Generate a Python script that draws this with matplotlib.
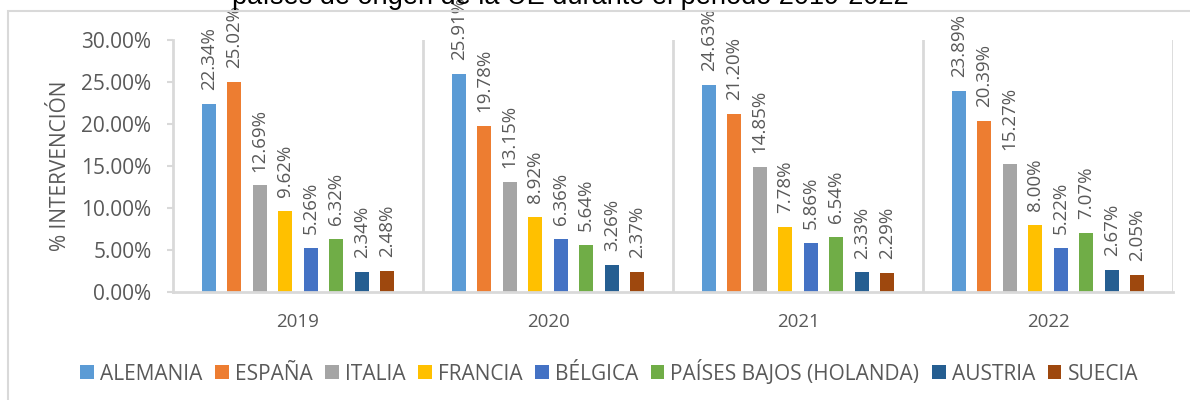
import matplotlib.pyplot as plt
import matplotlib.patches as mpatches
import numpy as np

# datos
years = ['2019', '2020', '2021', '2022']
countries = ['ALEMANIA', 'ESPAÑA', 'ITALIA', 'FRANCIA', 'BÉLGICA',
             'PAÍSES BAJOS (HOLANDA)', 'AUSTRIA', 'SUECIA']
alemania = [22.34, 25.91, 24.63, 23.89]
espana = [25.02, 19.78, 21.20, 20.39]
italia = [12.69, 13.15, 14.85, 15.27]
francia = [9.62, 8.92, 7.78, 8.00]
belgica = [5.26, 6.36, 5.86, 5.22]
paises_bajos = [6.32, 5.64, 6.54, 7.07]
austria = [2.34, 3.26, 2.33, 2.67]
suecia = [2.48, 2.37, 2.29, 2.05]
yticks = [0, 5, 10, 15, 20, 25, 30]

series = [alemania, espana, italia, francia, belgica, paises_bajos, austria, suecia]
colors = ['#5B9BD5', '#ED7D31', '#A5A5A5', '#FFC000', '#4472C4',
          '#70AD47', '#255E91', '#9E480E']
gray = '#595959'
line = '#D9D9D9'

plt.rcParams['font.family'] = ['Open Sans', 'DejaVu Sans']

fig = plt.figure(figsize=(11.9, 4), dpi=100)
ax = fig.add_axes([173 / 1190, 1 - 292 / 400, 1000 / 1190, 252 / 400])

x = np.arange(len(years))
pitch = 0.102
width = 0.056
for i, (vals, c, name) in enumerate(zip(series, colors, countries)):
    xs = x + (i - 3.5) * pitch
    ax.bar(xs, vals, width=width, color=c, label=name, zorder=2)
    for xi, v in zip(xs, vals):
        ax.annotate(f'{v:.2f}%', (xi, v), xytext=(0, 10), textcoords='offset points',
                    rotation=90, ha='center', va='bottom', fontsize=13.5,
                    color=gray, annotation_clip=False)

ax.set_xlim(-0.5, 3.5)
ax.set_ylim(0, 30)
ax.set_yticks(yticks)
ax.set_yticklabels([f'{t:.2f}%' for t in yticks], fontsize=15, color=gray)
ax.set_xticks(x)
ax.set_xticklabels(years, fontsize=13.5, color=gray)
ax.tick_params(axis='x', length=0, pad=15)
ax.tick_params(axis='y', length=4.5, color=line, width=1.5, pad=11)
ax.set_ylabel('% INTERVENCIÓN', fontsize=15, color=gray, labelpad=7)

for s in ['top', 'right']:
    ax.spines[s].set_visible(False)
for s in ['left', 'bottom']:
    ax.spines[s].set_color(line)
    ax.spines[s].set_linewidth(2)
for b in [0.5, 1.5, 2.5, 3.5]:
    ax.axvline(b, color=line, lw=2, zorder=1)

fig.text(0.479, 1 - 4 / 400, 'países de origen de la UE durante el periodo 2019-2022',
         ha='center', va='baseline', fontsize=19.5, family='Liberation Sans', color='black')

fig.patches.append(mpatches.Rectangle((8 / 1190, -0.1), 1.2, 1 - 11 / 400 + 0.1,
                                      transform=fig.transFigure, fill=False,
                                      edgecolor=line, lw=1.5))

leg = fig.legend(loc='center', bbox_to_anchor=(0.512, 0.07), ncol=8, frameon=False,
                 fontsize=15, handlelength=0.65, handleheight=0.65, handletextpad=0.3,
                 columnspacing=0.6)
for t in leg.get_texts():
    t.set_color(gray)

fig.savefig('out.png', dpi=100)
